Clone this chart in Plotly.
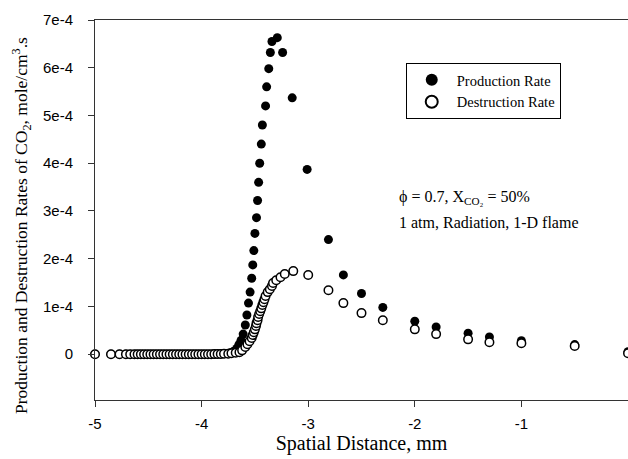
import plotly.graph_objects as go

# Spatial distance (mm) and rates (mole/cm^3.s)
flat_x = [-5.0, -4.85, -4.77, -4.71, -4.67, -4.63, -4.60, -4.57, -4.54, -4.51, -4.48, -4.45,
          -4.42, -4.39, -4.36, -4.33, -4.30, -4.27, -4.24, -4.21, -4.18, -4.15, -4.12, -4.09,
          -4.06, -4.03, -4.00, -3.97, -3.94, -3.91, -3.88, -3.85, -3.82, -3.79]
flat_y = [0.0] * 30 + [0.001e-4, 0.002e-4, 0.004e-4, 0.008e-4]

prod_x = [-3.76, -3.73, -3.70, -3.67, -3.65, -3.63, -3.61, -3.59, -3.575, -3.56, -3.545,
          -3.53, -3.52, -3.51, -3.50, -3.485, -3.475, -3.465, -3.455, -3.44, -3.43, -3.40,
          -3.39, -3.37, -3.355, -3.34, -3.29, -3.24, -3.15, -3.01, -2.81, -2.67, -2.50,
          -2.30, -2.0, -1.80, -1.50, -1.30, -1.0, -0.5, 0.0]
prod_y = [0.01e-4, 0.03e-4, 0.06e-4, 0.12e-4, 0.20e-4, 0.29e-4, 0.42e-4, 0.61e-4, 0.82e-4,
          1.07e-4, 1.30e-4, 1.59e-4, 1.87e-4, 2.17e-4, 2.53e-4, 2.86e-4, 3.22e-4, 3.60e-4,
          4.00e-4, 4.40e-4, 4.80e-4, 5.20e-4, 5.60e-4, 5.98e-4, 6.32e-4, 6.55e-4, 6.63e-4,
          6.32e-4, 5.37e-4, 3.87e-4, 2.40e-4, 1.66e-4, 1.27e-4, 0.98e-4, 0.69e-4, 0.57e-4,
          0.44e-4, 0.36e-4, 0.28e-4, 0.20e-4, 0.05e-4]

dest_x = [-3.75, -3.72, -3.68, -3.645, -3.62, -3.59, -3.57, -3.55, -3.53, -3.52, -3.51,
          -3.50, -3.49, -3.485, -3.475, -3.47, -3.46, -3.45, -3.44, -3.43, -3.42, -3.41,
          -3.40, -3.38, -3.36, -3.34, -3.33, -3.30, -3.26, -3.22, -3.14, -3.0, -2.81,
          -2.67, -2.50, -2.30, -2.0, -1.80, -1.50, -1.30, -1.0, -0.5, 0.0]
dest_y = [0.01e-4, 0.02e-4, 0.03e-4, 0.04e-4, 0.08e-4, 0.15e-4, 0.21e-4, 0.27e-4, 0.34e-4,
          0.40e-4, 0.46e-4, 0.52e-4, 0.59e-4, 0.65e-4, 0.71e-4, 0.78e-4, 0.84e-4, 0.90e-4,
          0.96e-4, 1.03e-4, 1.09e-4, 1.15e-4, 1.22e-4, 1.30e-4, 1.36e-4, 1.43e-4, 1.49e-4,
          1.55e-4, 1.61e-4, 1.68e-4, 1.74e-4, 1.66e-4, 1.34e-4, 1.07e-4, 0.86e-4, 0.71e-4,
          0.52e-4, 0.42e-4, 0.31e-4, 0.25e-4, 0.23e-4, 0.17e-4, 0.02e-4]

y_ticks = [0, 1e-4, 2e-4, 3e-4, 4e-4, 5e-4, 6e-4, 7e-4]
y_tick_text = ["0", "1e-4", "2e-4", "3e-4", "4e-4", "5e-4", "6e-4", "7e-4"]
x_ticks = [-5, -4, -3, -2, -1, 0]
x_tick_text = ["-5", "-4", "-3", "-2", "-1", "0"]

serif = "Liberation Serif, Times New Roman, serif"
sans = "Liberation Sans, Arial, sans-serif"

fig = go.Figure()
fig.add_trace(go.Scatter(
    x=flat_x + prod_x, y=flat_y + prod_y, mode="markers", name="Production Rate",
    marker=dict(symbol="circle", size=9, color="black", line=dict(width=0)),
    cliponaxis=False))
fig.add_trace(go.Scatter(
    x=flat_x + dest_x, y=flat_y + dest_y, mode="markers", name="Destruction Rate",
    marker=dict(symbol="circle", size=8.5, color="white", line=dict(width=1.5, color="black")),
    cliponaxis=False))

fig.update_layout(
    width=628, height=459,
    margin=dict(l=95, r=0, t=20, b=59),
    plot_bgcolor="white", paper_bgcolor="white",
    showlegend=True,
    legend=dict(x=0.583, y=0.887, xanchor="left", yanchor="top",
                bordercolor="black", borderwidth=1, bgcolor="white",
                font=dict(family=serif, size=14.5, color="black"),
                itemwidth=40, itemsizing="constant", tracegroupgap=0),
    xaxis=dict(range=[-5, 0], tickvals=x_ticks, ticktext=x_tick_text,
               showline=True, linecolor="#333", linewidth=1, mirror=True,
               ticks="outside", ticklen=6, tickcolor="#333",
               showgrid=False, zeroline=False, ticklabelstandoff=4,
               tickfont=dict(family=sans, size=15, color="black"),
               title=dict(text="Spatial Distance, mm", font=dict(family=serif, size=20, color="black"),
                          standoff=4)),
    yaxis=dict(range=[-0.96e-4, 7e-4], tickvals=y_ticks, ticktext=y_tick_text,
               showline=True, linecolor="#333", linewidth=1,
               ticks="outside", ticklen=6, tickcolor="#333",
               showgrid=False, zeroline=False, ticklabelstandoff=12,
               tickfont=dict(family=sans, size=15, color="black")),
)

fig.add_annotation(x=(22 - 95) / 533, y=0.458, xref="paper", yref="paper",
                   xanchor="center", yanchor="middle",
                   text="Production and Destruction Rates of CO<sub>2</sub>, mole/cm<sup>3</sup>.s",
                   textangle=-90, showarrow=False,
                   font=dict(family=serif, size=17.5, color="black"))

fig.add_annotation(x=0.567, y=0.534, xref="paper", yref="paper", xanchor="left", yanchor="middle",
                   text="ϕ = 0.7, X<sub>CO₂</sub> = 50%", showarrow=False,
                   font=dict(family=serif, size=16, color="black"))
fig.add_annotation(x=0.567, y=0.466, xref="paper", yref="paper", xanchor="left", yanchor="middle",
                   text="1 atm, Radiation, 1-D flame", showarrow=False,
                   font=dict(family=serif, size=16, color="black"))

fig.write_html("out.html")
